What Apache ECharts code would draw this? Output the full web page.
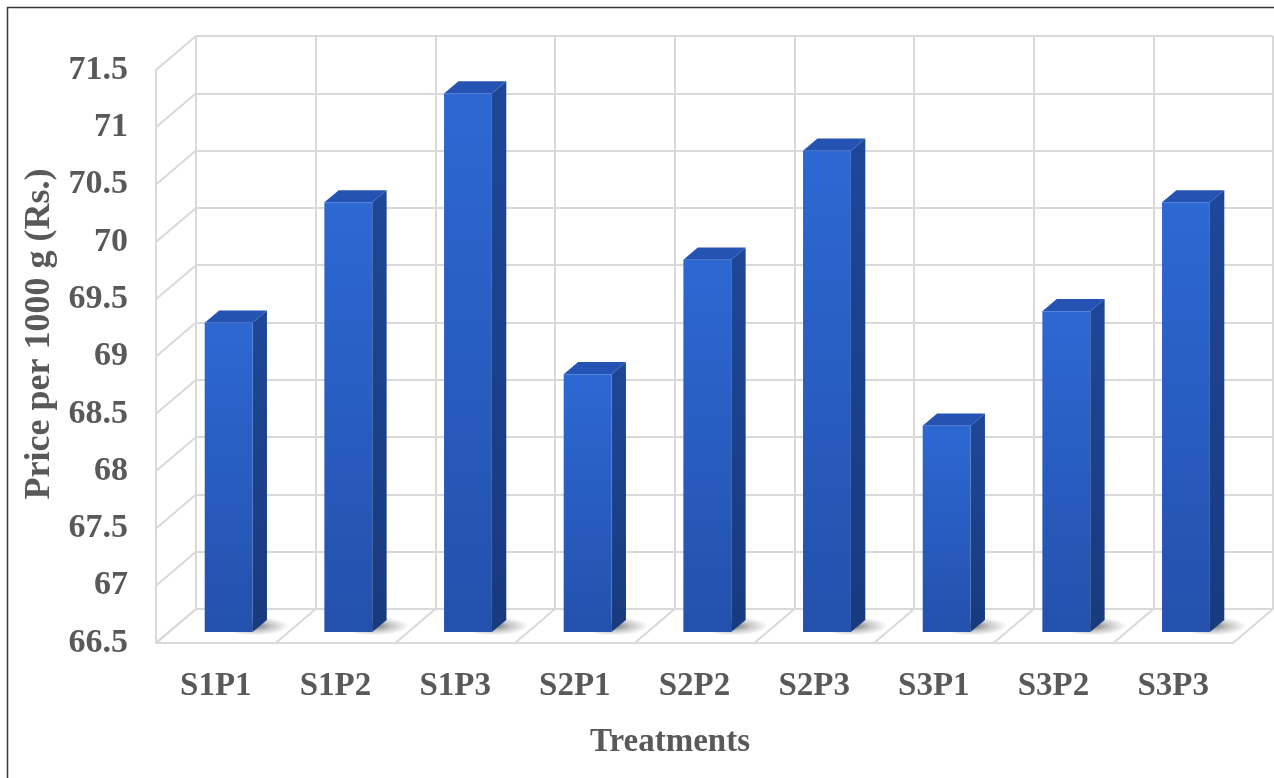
<!DOCTYPE html>
<html>
<head>
<meta charset="utf-8">
<script src="https://cdn.jsdelivr.net/npm/echarts@6/dist/echarts.min.js"></script>
<style>
  html, body { margin: 0; padding: 0; background: #fff; }
  #chart { width: 1274px; height: 778px; }
</style>
</head>
<body>
<div id="chart"></div>
<script>
// data
const categories = ['S1P1', 'S1P2', 'S1P3', 'S2P1', 'S2P2', 'S2P3', 'S3P1', 'S3P2', 'S3P3'];
const prices = [69.2, 70.25, 71.2, 68.75, 69.75, 70.7, 68.3, 69.3, 70.25];
const yMin = 66.5;
const yMax = 71.5;
const yStep = 0.5;

// depth of the fake 3d box (back wall offset)
const DX = 40;
const DY = -34;
const FONT = "'Liberation Serif', 'Times New Roman', serif";
const GRID_COLOR = '#d9d9d9';
const TEXT_COLOR = '#595959';

let myChart = echarts.init(document.getElementById('chart'));

let yTicks = [];
for (let v = yMin; v <= yMax + 1e-9; v += yStep) yTicks.push(+v.toFixed(1));

// side wall + floor lines
function renderWalls(params, api) {
    let cs = params.coordSys;
    let children = [];
    let style = { stroke: GRID_COLOR, lineWidth: 2 };
    yTicks.forEach(function (v) {
        let y = api.coord([0, v])[1];
        children.push({ type: 'line', shape: { x1: cs.x, y1: y, x2: cs.x + DX, y2: y + DY }, style: style });
    });
    let bw = cs.width / categories.length;
    let yb = api.coord([0, yMin])[1];
    for (let k = 0; k <= categories.length; k++) {
        let x = cs.x + k * bw;
        children.push({ type: 'line', shape: { x1: x, y1: yb, x2: x + DX, y2: yb + DY }, style: style });
    }
    return { type: 'group', children: children };
}

// one 3d bar per category
function renderBar(params, api) {
    let idx = api.value(0);
    let val = api.value(1);
    let base = api.coord([idx, yMin]);
    let top = api.coord([idx, val]);
    let bw = api.size([1, 0])[0];
    let f1 = 0.32, depth = 0.36;
    let ox = DX * f1, oy = DY * f1;
    let dx = DX * depth, dy = DY * depth;
    let w = bw * 0.4;
    let xl = base[0] - w / 2 + ox;
    let xr = xl + w;
    let yb = base[1] + oy;
    let yt = top[1] + oy;
    return {
        type: 'group',
        children: [
            {
                // soft floor shadow
                type: 'circle',
                x: xr + 8,
                y: yb - 6,
                scaleY: 0.26,
                shape: { cx: 0, cy: 0, r: 36 },
                style: {
                    fill: new echarts.graphic.RadialGradient(0.4, 0.5, 0.5, [
                        { offset: 0, color: 'rgba(0,0,0,0.55)' },
                        { offset: 0.5, color: 'rgba(0,0,0,0.22)' },
                        { offset: 1, color: 'rgba(0,0,0,0)' }
                    ])
                }
            },
            {
                type: 'polygon',
                shape: { points: [[xr, yt], [xr + dx, yt + dy], [xr + dx, yb + dy], [xr, yb]] },
                style: {
                    fill: new echarts.graphic.LinearGradient(0, 0, 0, 1, [
                        { offset: 0, color: '#1f4798' },
                        { offset: 1, color: '#183a7e' }
                    ])
                }
            },
            {
                type: 'polygon',
                shape: { points: [[xl, yt], [xr, yt], [xr + dx, yt + dy], [xl + dx, yt + dy]] },
                style: { fill: '#2553b4' }
            },
            {
                type: 'rect',
                shape: { x: xl, y: yt, width: w, height: yb - yt },
                style: {
                    fill: new echarts.graphic.LinearGradient(0, 0, 0, 1, [
                        { offset: 0, color: '#2d68d3' },
                        { offset: 1, color: '#2351ad' }
                    ])
                }
            }
        ]
    };
}

myChart.setOption({
    backgroundColor: '#ffffff',
    animation: false,
    grid: [
        // front plane (labels)
        { left: 156, right: 41, top: 70, bottom: 135 },
        // back wall
        { left: 156 + DX, right: 41 - DX, top: 70 + DY, bottom: 135 - DY }
    ],
    xAxis: [{
        type: 'category',
        gridIndex: 0,
        data: categories,
        axisTick: { show: false },
        axisLine: { lineStyle: { color: GRID_COLOR, width: 2 } },
        axisLabel: {
            interval: 0,
            margin: 27,
            fontFamily: FONT,
            fontWeight: 'bold',
            fontSize: 33,
            color: TEXT_COLOR
        },
        splitLine: { show: false }
    }, {
        type: 'category',
        gridIndex: 1,
        data: categories,
        axisTick: { show: false },
        axisLine: { show: false },
        axisLabel: { show: false },
        splitLine: { show: true, interval: 0, lineStyle: { color: GRID_COLOR, width: 2 } }
    }],
    yAxis: [{
        type: 'value',
        gridIndex: 0,
        min: yMin,
        max: yMax,
        interval: yStep,
        axisTick: { show: false },
        axisLine: { show: true, lineStyle: { color: GRID_COLOR, width: 2 } },
        axisLabel: {
            margin: 28,
            fontFamily: FONT,
            fontWeight: 'bold',
            fontSize: 34,
            color: TEXT_COLOR
        },
        splitLine: { show: false }
    }, {
        type: 'value',
        gridIndex: 1,
        min: yMin,
        max: yMax,
        interval: yStep,
        axisTick: { show: false },
        axisLine: { show: false },
        axisLabel: { show: false },
        splitLine: { show: true, lineStyle: { color: GRID_COLOR, width: 2 } }
    }],
    graphic: [
        {
            type: 'text',
            x: 40,
            y: 334,
            rotation: Math.PI / 2,
            style: {
                text: 'Price per 1000 g (Rs.)',
                fontFamily: FONT,
                fontWeight: 'bold',
                fontSize: 36,
                fill: TEXT_COLOR,
                align: 'center',
                verticalAlign: 'middle'
            }
        },
        {
            type: 'text',
            x: 670,
            y: 742,
            style: {
                text: 'Treatments',
                fontFamily: FONT,
                fontWeight: 'bold',
                fontSize: 33,
                fill: TEXT_COLOR,
                align: 'center',
                verticalAlign: 'middle'
            }
        },
        { type: 'line', shape: { x1: 7.5, y1: 7, x2: 7.5, y2: 778 }, style: { stroke: '#3a3a3a', lineWidth: 1.5 } },
        { type: 'line', shape: { x1: 7, y1: 7.5, x2: 1274, y2: 7.5 }, style: { stroke: '#3a3a3a', lineWidth: 1.5 } }
    ],
    series: [{
        type: 'custom',
        xAxisIndex: 0,
        yAxisIndex: 0,
        z: 1,
        silent: true,
        renderItem: renderWalls,
        data: [[0, yMin]]
    }, {
        type: 'custom',
        xAxisIndex: 0,
        yAxisIndex: 0,
        z: 3,
        renderItem: renderBar,
        encode: { x: 0, y: 1 },
        data: prices.map(function (v, i) { return [i, v]; })
    }]
});
</script>
</body>
</html>
